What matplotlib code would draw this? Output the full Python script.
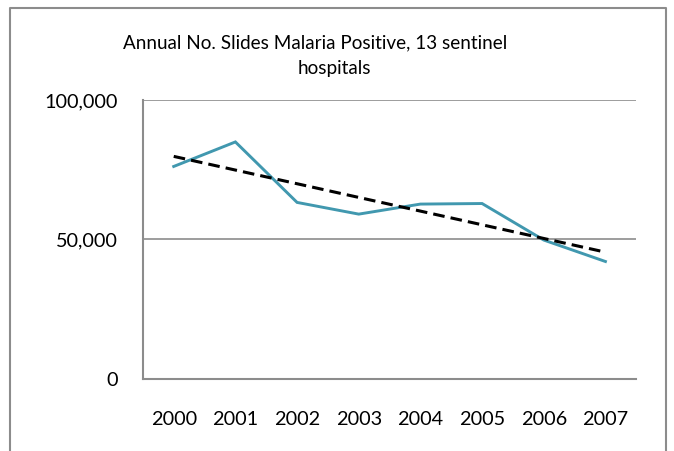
import numpy as np
import matplotlib.pyplot as plt
from matplotlib.lines import Line2D

years = ['2000', '2001', '2002', '2003', '2004', '2005', '2006', '2007']
slides_positive = [76200, 85000, 63300, 59100, 62700, 62900, 49800, 42100]
y_ticks = [0, 50000, 100000]
y_tick_labels = ['0', '50,000', '100,000']
title_lines = ['Annual No. Slides Malaria Positive, 13 sentinel', 'hospitals']

plt.rcParams['font.family'] = ['Lato', 'DejaVu Sans']

fig = plt.figure(figsize=(6.74, 4.51), dpi=100)
ax = fig.add_axes([0.212, 0.160, 0.732, 0.618])

x = np.arange(len(years))
ax.plot(x, slides_positive, color='#4198AF', linewidth=2.1, solid_joinstyle='miter', zorder=3)

# linear trendline, like excel
coef = np.polyfit(x, slides_positive, 1)
ax.plot(x, np.polyval(coef, x), color='black', linewidth=2.2,
        linestyle=(0, (3.8, 2.0)), zorder=4)

ax.set_xlim(-0.5, len(years) - 0.5)
ax.set_ylim(0, 100000)
ax.set_xticks(x)
ax.set_xticklabels(years)
ax.set_yticks(y_ticks)
ax.set_yticklabels(y_tick_labels)
ax.tick_params(axis='both', length=0, labelsize=14.3, colors='black')
ax.tick_params(axis='x', pad=23)
ax.tick_params(axis='y', pad=18)

for v in y_ticks[1:]:
    ax.axhline(v, color='#8c8c8c', linewidth=1.2, zorder=1)
for side in ['top', 'right']:
    ax.spines[side].set_visible(False)
for side in ['left', 'bottom']:
    ax.spines[side].set_color('#8c8c8c')
    ax.spines[side].set_linewidth(1.5)

# title is wrapped by hand, the first line sits a bit left as in the source
fig.text(315 / 674, 0.905, title_lines[0], ha='center', va='center', fontsize=13.6)
fig.text(334 / 674, 0.849, title_lines[1], ha='center', va='center', fontsize=13.6)

# chart border (bottom edge is cropped off in the reference)
x0, x1, y0 = 10 / 674, 666 / 674, 1 - 8 / 451
fig.add_artist(Line2D([x0, x0, x1, x1], [0, y0, y0, 0], transform=fig.transFigure,
                      color='#8c8c8c', linewidth=1.5))

fig.savefig('out.png', dpi=100)
